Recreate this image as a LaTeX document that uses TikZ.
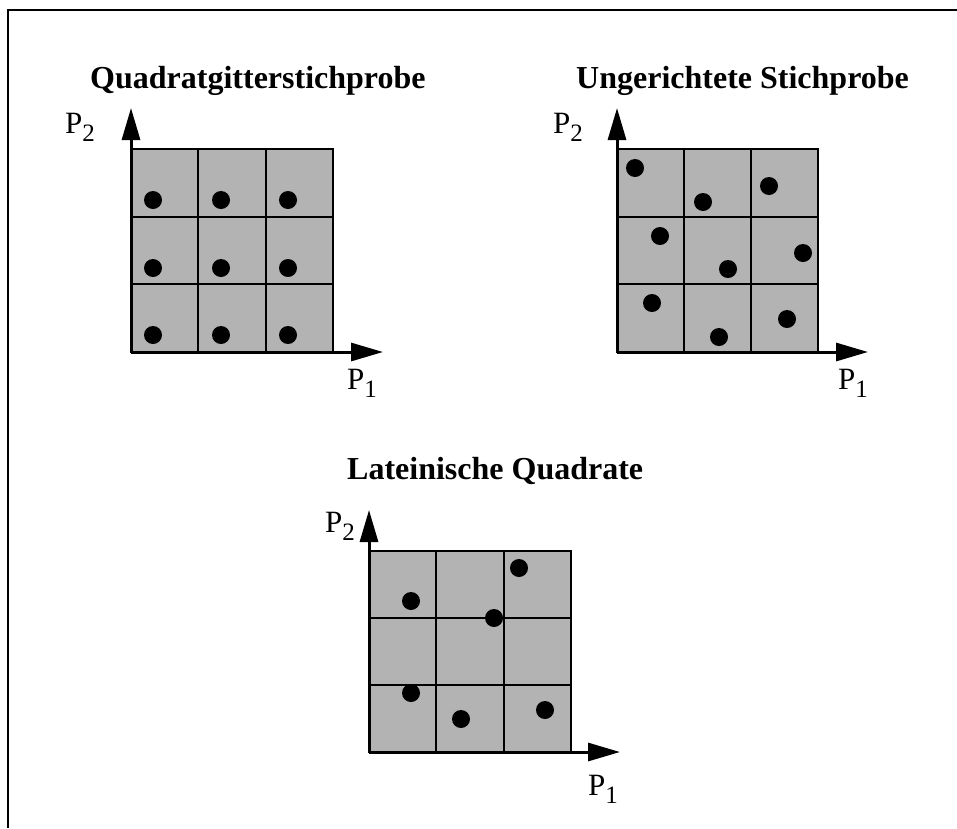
\documentclass[tikz,border=0pt]{standalone}
\usepackage{fontspec}
\setmainfont{Liberation Serif}
\usetikzlibrary{arrows.meta}
\definecolor{cellgray}{HTML}{B3B3B3}
\newcommand{\Plab}[1]{P\raisebox{-8pt}{\fontsize{25}{28}\selectfont #1}}
\tikzset{
  title/.style={anchor=base west, font=\bfseries\fontsize{32}{38}\selectfont, inner sep=0pt},
  axlabel/.style={anchor=base west, font=\fontsize{31}{36}\selectfont, inner sep=0pt},
  axis/.style={line width=3pt, -{Triangle[length=32pt,width=18pt]}},
  gridline/.style={line width=1.8pt},
  dot/.style={fill=black},
}
\begin{document}
\begin{tikzpicture}[x=1pt,y=-1pt]
\useasboundingbox (0,0) rectangle (957,828);
% frame
\draw[line width=2pt] (7.5,828) -- (7.5,9.5) -- (957,9.5);

% ---------- Panel 1 ----------
\node[title] (t1) at (90,88) {Quadratgitterstichprobe};
\fill[cellgray] (131,149) rectangle (333,352);
\foreach \i in {1,2} {
  \draw[gridline] (131+\i*67.33,149) -- (131+\i*67.33,352);
  \draw[gridline] (131,149+\i*67.67) -- (333,149+\i*67.67);
}
\draw[gridline] (131,149) rectangle (333,352);
\foreach \x in {153,221,288}
  \foreach \y in {200,268,335}
    \fill[dot] (\x,\y) circle (9);
\coordinate (o1) at (131,352);
\coordinate (y1) at (131,108);
\coordinate (x1) at (383,352);
\draw[axis] (o1) -- (y1);
\draw[axis] (o1) -- (x1);
\node[axlabel] (p2a) at (65,133) {\Plab{2}};
\node[axlabel] (p1a) at (347,389) {\Plab{1}};

% ---------- Panel 2 ----------
\node[title] (t2) at (576,88) {Ungerichtete Stichprobe};
\fill[cellgray] (617,149) rectangle (818,352);
\foreach \i in {1,2} {
  \draw[gridline] (617+\i*67,149) -- (617+\i*67,352);
  \draw[gridline] (617,149+\i*67.67) -- (818,149+\i*67.67);
}
\draw[gridline] (617,149) rectangle (818,352);
\foreach \p in {(635,168),(703,202),(769,186),(660,236),(728,269),(803,253),(652,303),(719,337),(787,319)}
  \fill[dot] \p circle (9);
\coordinate (o2) at (617,352);
\coordinate (y2) at (617,108);
\coordinate (x2) at (868,352);
\draw[axis] (o2) -- (y2);
\draw[axis] (o2) -- (x2);
\node[axlabel] (p2b) at (553,133) {\Plab{2}};
\node[axlabel] (p1b) at (838,389) {\Plab{1}};

% ---------- Panel 3 ----------
\node[title] (t3) at (347,479) {Lateinische Quadrate};
\fill[cellgray] (369,551) rectangle (571,752);
\foreach \i in {1,2} {
  \draw[gridline] (369+\i*67.33,551) -- (369+\i*67.33,752);
  \draw[gridline] (369,551+\i*67) -- (571,551+\i*67);
}
\draw[gridline] (369,551) rectangle (571,752);
\foreach \p in {(411,601),(519,568),(494,618),(411,693),(461,719),(545,710)}
  \fill[dot] \p circle (9);
\coordinate (o3) at (369,752);
\coordinate (y3) at (369,510);
\coordinate (x3) at (620,752);
\draw[axis] (o3) -- (y3);
\draw[axis] (o3) -- (x3);
\node[axlabel] (p2c) at (325,532) {\Plab{2}};
\node[axlabel] (p1c) at (588,795) {\Plab{1}};
\end{tikzpicture}
\end{document}
